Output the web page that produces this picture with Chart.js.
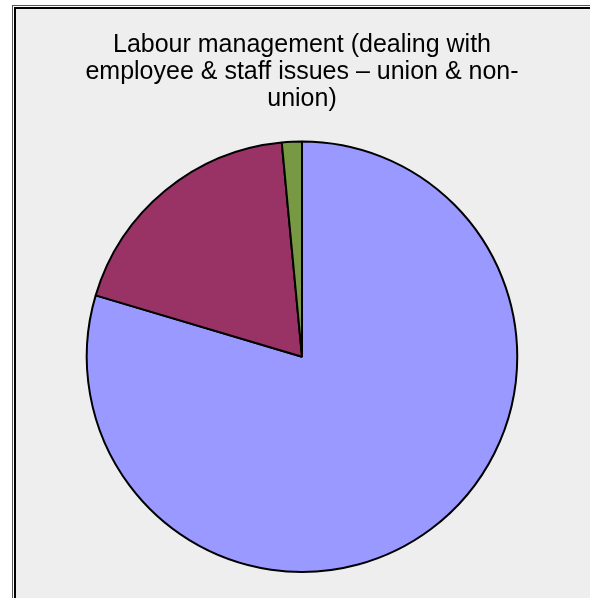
<!DOCTYPE html>
<html>
<head>
<meta charset="utf-8">
<script src="https://cdn.jsdelivr.net/npm/chart.js@4.4.0/dist/chart.umd.min.js"></script>
<style>
  html, body { margin: 0; padding: 0; background: #fff; overflow: hidden; }
  #outer { position: absolute; left: 12px; top: 5px; width: 700px; height: 700px;
           border-left: 1px solid #555; border-top: 1px solid #555; }
  #inner { position: absolute; left: 1px; top: 1px; right: 0; bottom: 0;
           border-left: 2px solid #000; border-top: 2px solid #000; background: #eeeeee; }
  #wrap { position: absolute; left: 16px; top: 9px; width: 572px; height: 589px; }
</style>
</head>
<body>
<div id="outer"><div id="inner"></div></div>
<div id="wrap"><canvas id="myChart"></canvas></div>
<script>
const titleLines = ['Labour management (dealing with', 'employee & staff issues \u2013 union & non-', 'union)'];
const categories = ['Category 1', 'Category 2', 'Category 3'];
const shares = [79.6, 18.9, 1.5];
const sliceColours = ['#9999ff', '#993366', '#779944'];

document.addEventListener('DOMContentLoaded', function () {
  const ctx = document.getElementById('myChart').getContext('2d');

  const config = {
    type: 'pie',
    data: {
      labels: categories,
      datasets: [{
        data: shares,
        backgroundColor: sliceColours,
        borderColor: '#000',
        borderWidth: 2
      }]
    },
    options: {
      responsive: true,
      maintainAspectRatio: false,
      animation: false,
      layout: { padding: { bottom: 25 } },
      plugins: {
        legend: { display: false },
        tooltip: { enabled: false },
        title: {
          display: true,
          text: titleLines,
          color: '#000',
          font: { family: 'Liberation Sans, Arial, sans-serif', size: 25, weight: 'normal', lineHeight: 1.08 },
          padding: { top: 23, bottom: 27.5 }
        }
      }
    }
  };

  new Chart(ctx, config);
});
</script>
</body>
</html>
